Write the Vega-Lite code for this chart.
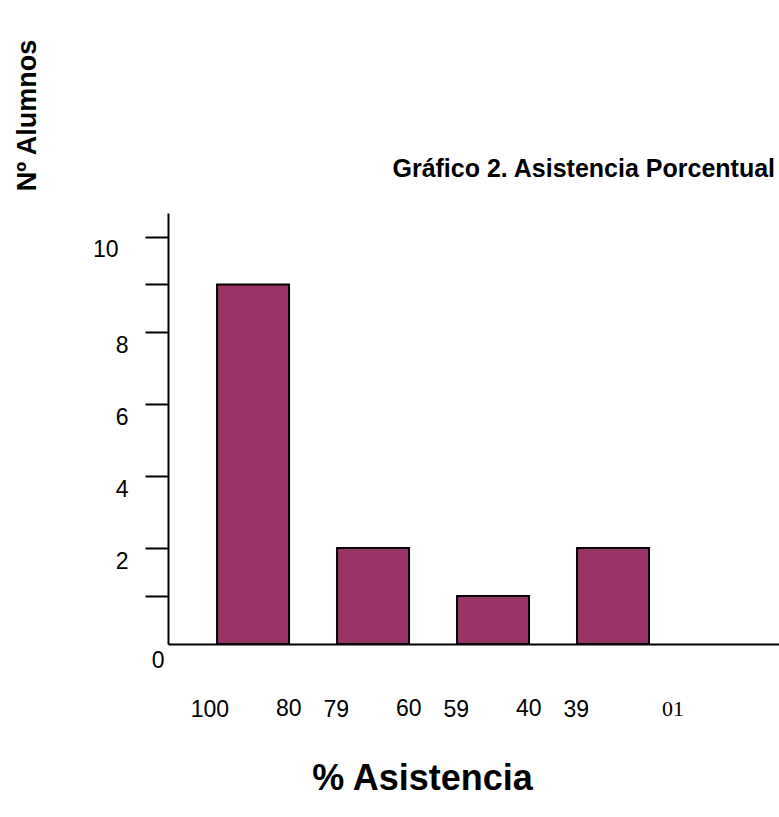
{
  "$schema": "https://vega.github.io/schema/vega-lite/v6.json",
  "width": 611,
  "height": 431,
  "autosize": "none",
  "padding": {"left": 168, "top": 213, "right": 0, "bottom": 173},
  "background": "white",
  "config": {
    "view": {"stroke": null},
    "font": "Liberation Sans",
    "axis": {"grid": false, "domainColor": "black", "domainWidth": 2, "tickColor": "black", "tickWidth": 2, "labelColor": "black", "titleColor": "black", "labelFont": "Liberation Sans", "titleFont": "Liberation Sans"}
  },
  "title": {
    "text": "Gráfico 2. Asistencia Porcentual",
    "font": "Liberation Sans",
    "fontSize": 25,
    "fontWeight": "bold",
    "color": "black",
    "anchor": "end",
    "frame": "group",
    "baseline": "alphabetic",
    "offset": 0,
    "dx": -4,
    "dy": 163
  },
  "data": {
    "values": [
      {"rango": "100-80", "hasta": "80", "alumnos": 9},
      {"rango": "79-60", "hasta": "60", "alumnos": 2},
      {"rango": "59-40", "hasta": "40", "alumnos": 1},
      {"rango": "39-01", "hasta": "01", "alumnos": 2}
    ]
  },
  "encoding": {
    "x": {
      "field": "rango",
      "type": "nominal",
      "sort": null,
      "scale": {"paddingInner": 0.4, "paddingOuter": 0.746, "align": 0.274},
      "axis": {
        "title": "% Asistencia",
        "titleFontSize": 36,
        "titleFontWeight": "bold",
        "titleX": 254,
        "titleY": 145,
        "titleAlign": "center",
        "titleBaseline": "alphabetic",
        "labelAngle": 0,
        "labelExpr": "split(datum.label, '-')[0]",
        "labelAlign": "right",
        "labelOffset": -24,
        "labelBaseline": "alphabetic",
        "labelPadding": 72,
        "labelFontSize": 23,
        "ticks": false,
        "tickSize": 0
      }
    },
    "y": {
      "field": "alumnos",
      "type": "quantitative",
      "scale": {"type": "linear", "domain": [0, 2, 8, 10.5], "range": [431, 335, 119, 0], "nice": false, "zero": false},
      "axis": {
        "title": "Nº Alumnos",
        "titleFontSize": 27,
        "titleFontWeight": "bold",
        "titleAngle": 270,
        "titleAlign": "center",
        "titleBaseline": "middle",
        "titleX": -141,
        "titleY": -98,
        "values": [0, 1, 2, 4, 6, 8, 9, 10],
        "labelExpr": "datum.value == 1 || datum.value == 9 ? '' : datum.label",
        "labelFontSize": 23,
        "tickSize": 23,
        "tickOpacity": {"condition": {"test": "datum.value == 0", "value": 0}, "value": 1},
        "labelPadding": {"condition": [{"test": "datum.value == 0", "value": -19}, {"test": "datum.value == 10", "value": 27}], "value": 17},
        "labelOffset": {"condition": {"test": "datum.value == 0", "value": 16}, "value": 13}
      }
    }
  },
  "layer": [
    {
      "mark": {"type": "bar", "fill": "#993366", "stroke": "black", "strokeWidth": 2}
    },
    {
      "transform": [{"filter": "datum.hasta != '01'"}],
      "mark": {"type": "text", "align": "left", "baseline": "alphabetic", "dx": 23, "dy": 72, "fontSize": 23, "font": "Liberation Sans", "color": "black"},
      "encoding": {
        "y": {"datum": 0},
        "text": {"field": "hasta"}
      }
    },
    {
      "transform": [{"filter": "datum.hasta == '01'"}],
      "mark": {"type": "text", "align": "left", "baseline": "alphabetic", "dx": 49, "dy": 72, "fontSize": 22, "font": "Liberation Serif", "color": "black"},
      "encoding": {
        "y": {"datum": 0},
        "text": {"field": "hasta"}
      }
    }
  ]
}
